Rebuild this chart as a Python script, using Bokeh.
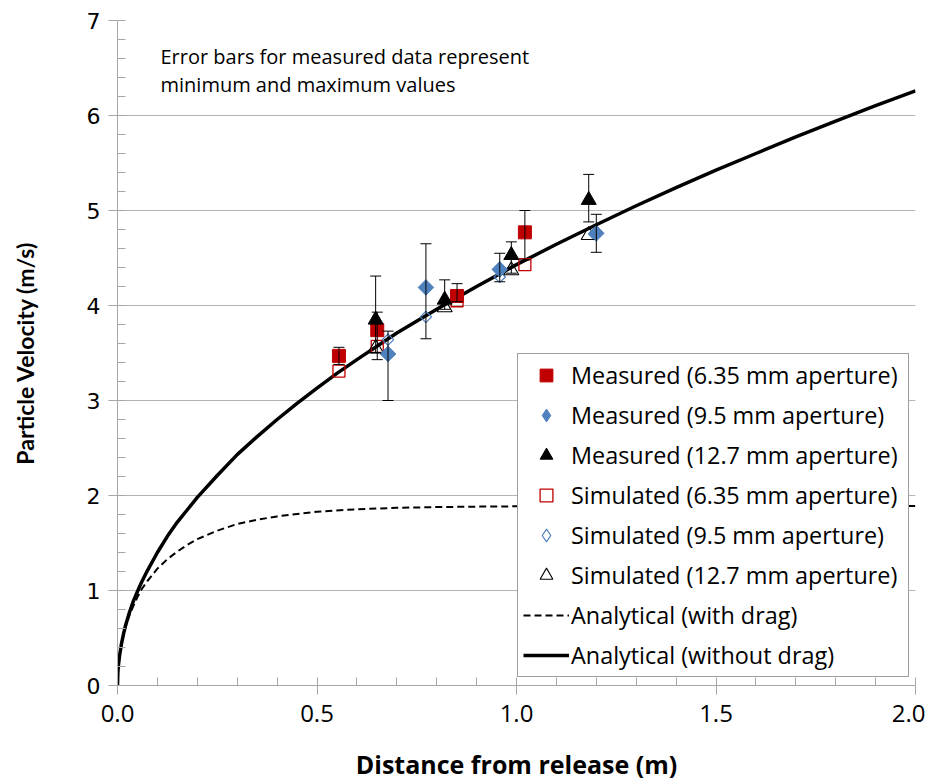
from bokeh.plotting import figure
from bokeh.models import (ColumnDataSource, Whisker, TeeHead, Range1d, FixedTicker,
                          Legend, LegendItem, Label)
from bokeh.embed import file_html
from bokeh.resources import INLINE
import math

# ---------------- data ----------------
# Measured, 6.35 mm aperture
m635_x = [0.555, 0.651, 0.851, 1.021]
m635_y = [3.47, 3.74, 4.10, 4.77]
m635_hi = [3.56, 3.93, 4.23, 5.00]
m635_lo = [3.38, 3.43, 4.04, 4.48]
# Measured, 9.5 mm aperture
m95_x = [0.678, 0.773, 0.958, 1.200]
m95_y = [3.49, 4.19, 4.38, 4.76]
m95_hi = [3.73, 4.65, 4.55, 4.96]
m95_lo = [3.00, 3.65, 4.25, 4.56]
# Measured, 12.7 mm aperture
m127_x = [0.647, 0.820, 0.987, 1.181]
m127_y = [3.85, 4.06, 4.53, 5.11]
m127_hi = [4.31, 4.27, 4.67, 5.38]
m127_lo = [3.50, 3.96, 4.34, 4.88]
# Simulated
s635_x = [0.555, 0.651, 0.851, 1.021]
s635_y = [3.31, 3.57, 4.05, 4.43]
s95_x = [0.678, 0.773, 0.958, 1.195]
s95_y = [3.64, 3.88, 4.30, 4.75]
s127_x = [0.647, 0.820, 0.987, 1.181]
s127_y = [3.55, 3.98, 4.37, 4.74]
# Analytical curves
nod_x = [0, 0.001, 0.002, 0.005, 0.01, 0.015, 0.02, 0.03, 0.04, 0.05, 0.06, 0.075, 0.1, 0.125, 0.15,
         0.175, 0.2, 0.25, 0.3, 0.35, 0.4, 0.45, 0.5, 0.55, 0.6, 0.7, 0.8, 0.9, 1.0, 1.1, 1.2, 1.3,
         1.4, 1.5, 1.6, 1.7, 1.8, 1.9, 2.0]
nod_y = [0, 0.14, 0.20, 0.31, 0.44, 0.54, 0.63, 0.77, 0.89, 0.99, 1.085, 1.21, 1.40, 1.57, 1.72,
         1.85, 1.98, 2.21, 2.43, 2.62, 2.80, 2.97, 3.13, 3.285, 3.43, 3.71, 3.96, 4.20, 4.43, 4.645,
         4.85, 5.05, 5.24, 5.425, 5.60, 5.775, 5.94, 6.105, 6.26]
drag_x = [0, 0.001, 0.002, 0.005, 0.01, 0.015, 0.02, 0.03, 0.04, 0.05, 0.06, 0.075, 0.1, 0.125, 0.15,
          0.175, 0.2, 0.25, 0.3, 0.35, 0.4, 0.5, 0.6, 0.7, 0.8, 0.9, 1.0, 1.2, 1.5, 2.0]
drag_y = [0, 0.14, 0.20, 0.31, 0.44, 0.53, 0.61, 0.74, 0.84, 0.93, 1.01, 1.10, 1.23, 1.33, 1.41,
          1.48, 1.54, 1.63, 1.70, 1.745, 1.78, 1.83, 1.855, 1.87, 1.878, 1.883, 1.886, 1.889,
          1.89, 1.89]

x_ticks = [0, 0.5, 1.0, 1.5, 2.0]
x_minor = [i / 10 for i in range(0, 21)]
y_ticks = [0, 1, 2, 3, 4, 5, 6, 7]
y_minor = [i / 5 for i in range(0, 36)]

RED = "#C00000"
BLUE = "#4F81BD"

p = figure(width=925, height=783, output_backend="svg", toolbar_location=None,
           x_range=Range1d(0, 2), y_range=Range1d(0, 7),
           min_border_left=117, min_border_right=10, min_border_top=20, min_border_bottom=97)
p.outline_line_color = None
p.xgrid.grid_line_color = None
p.ygrid.grid_line_color = "#B4B4B4"
p.ygrid.grid_line_width = 1

for ax in (p.xaxis[0], p.yaxis[0]):
    ax.axis_line_color = "#A6A6A6"
    ax.major_tick_line_color = "#A6A6A6"
    ax.minor_tick_line_color = "#A6A6A6"
    ax.major_tick_in = 0
    ax.major_tick_out = 9
    ax.minor_tick_in = 8
    ax.minor_tick_out = 0
    ax.major_label_text_color = "black"
    ax.axis_label_text_color = "black"
    ax.axis_label_text_font_style = "bold"

p.xaxis.ticker = FixedTicker(ticks=x_ticks, minor_ticks=x_minor)
p.yaxis.ticker = FixedTicker(ticks=y_ticks, minor_ticks=y_minor)
p.xaxis.major_label_overrides = {t: f"{t:.1f}" for t in x_ticks}
p.xaxis.major_label_text_font = "Open Sans"
p.xaxis.major_label_text_font_size = "24px"
p.xaxis.major_label_standoff = 10
p.yaxis.major_label_text_font = "DejaVu Sans"
p.yaxis.major_label_text_font_size = "22px"
p.yaxis.major_label_standoff = 8

p.xaxis.axis_label = "Distance from release (m)"
p.xaxis.axis_label_text_font = "Open Sans"
p.xaxis.axis_label_text_font_size = "25px"
p.xaxis.axis_label_standoff = 22
p.yaxis.axis_label = "Particle Velocity (m/s)"
p.yaxis.axis_label_text_font = "Lato"
p.yaxis.axis_label_text_font_size = "23px"
p.yaxis.axis_label_standoff = 45

# curves
r_drag = p.line(drag_x, drag_y, line_color="black", line_width=2, line_dash="7 4")
r_nod = p.line(nod_x, nod_y, line_color="black", line_width=3.5)

# error bars
for xs, hi, lo in ((m635_x, m635_hi, m635_lo), (m95_x, m95_hi, m95_lo), (m127_x, m127_hi, m127_lo)):
    src = ColumnDataSource(dict(x=xs, upper=hi, lower=lo))
    w = Whisker(base="x", upper="upper", lower="lower", source=src, level="glyph",
                line_color="black", line_width=1,
                upper_head=TeeHead(size=11, line_color="black", line_width=1),
                lower_head=TeeHead(size=11, line_color="black", line_width=1))
    p.add_layout(w)

# simulated (hollow)
r_s635 = p.scatter(s635_x, s635_y, marker="square", size=12, fill_color="white", fill_alpha=0,
                   line_color=RED, line_width=1.3)
r_s95 = p.scatter(s95_x, s95_y, marker="square", angle=math.pi / 4, size=8, fill_color="white",
                  fill_alpha=0, line_color=BLUE, line_width=1.2)
r_s127 = p.scatter(s127_x, s127_y, marker="triangle", size=15, fill_color="white", fill_alpha=0,
                   line_color="black", line_width=1.1)
# measured (filled)
r_m635 = p.scatter(m635_x, m635_y, marker="square", size=13, fill_color=RED, line_color=RED)
r_m95 = p.scatter(m95_x, m95_y, marker="square", angle=math.pi / 4, size=11, fill_color=BLUE,
                  line_color=BLUE)
r_m127 = p.scatter(m127_x, m127_y, marker="triangle", size=15, fill_color="black", line_color="black")

# legend-only diamond renderers (legend glyphs ignore marker angle)
r_m95_leg = p.scatter(m95_x, m95_y, marker="diamond", fill_color=BLUE, line_color=BLUE, visible=False)
r_s95_leg = p.scatter(s95_x, s95_y, marker="diamond", fill_color="white", fill_alpha=0,
                      line_color=BLUE, line_width=1.2, visible=False)

p.add_layout(Label(x=160 - 117, y=686 - 71, x_units="screen", y_units="screen",
                   text="Error bars for measured data represent\nminimum and maximum values",
                   text_font="Open Sans", text_font_size="20px", text_color="black",
                   text_baseline="middle", text_line_height=1.03))

legend = Legend(items=[
    LegendItem(label="Measured (6.35 mm aperture)", renderers=[r_m635]),
    LegendItem(label="Measured (9.5 mm aperture)", renderers=[r_m95_leg]),
    LegendItem(label="Measured (12.7 mm aperture)", renderers=[r_m127]),
    LegendItem(label="Simulated (6.35 mm aperture)", renderers=[r_s635]),
    LegendItem(label="Simulated (9.5 mm aperture)", renderers=[r_s95_leg]),
    LegendItem(label="Simulated (12.7 mm aperture)", renderers=[r_s127]),
    LegendItem(label="Analytical (with drag)", renderers=[r_drag]),
    LegendItem(label="Analytical (without drag)", renderers=[r_nod]),
], location=(400, 8))
legend.label_text_font = "Open Sans"
legend.label_text_font_size = "23.4px"
legend.label_text_color = "black"
legend.glyph_width = 46
legend.glyph_height = 32
legend.label_height = 32
legend.label_width = 332
legend.spacing = 8
legend.label_standoff = 2
legend.padding = 5
legend.margin = 0
legend.border_line_color = "#404040"
legend.border_line_width = 1.5
legend.background_fill_color = "white"
legend.background_fill_alpha = 1
legend.inactive_fill_alpha = 0
p.add_layout(legend)

open("out.html", "w").write(file_html(p, INLINE))
